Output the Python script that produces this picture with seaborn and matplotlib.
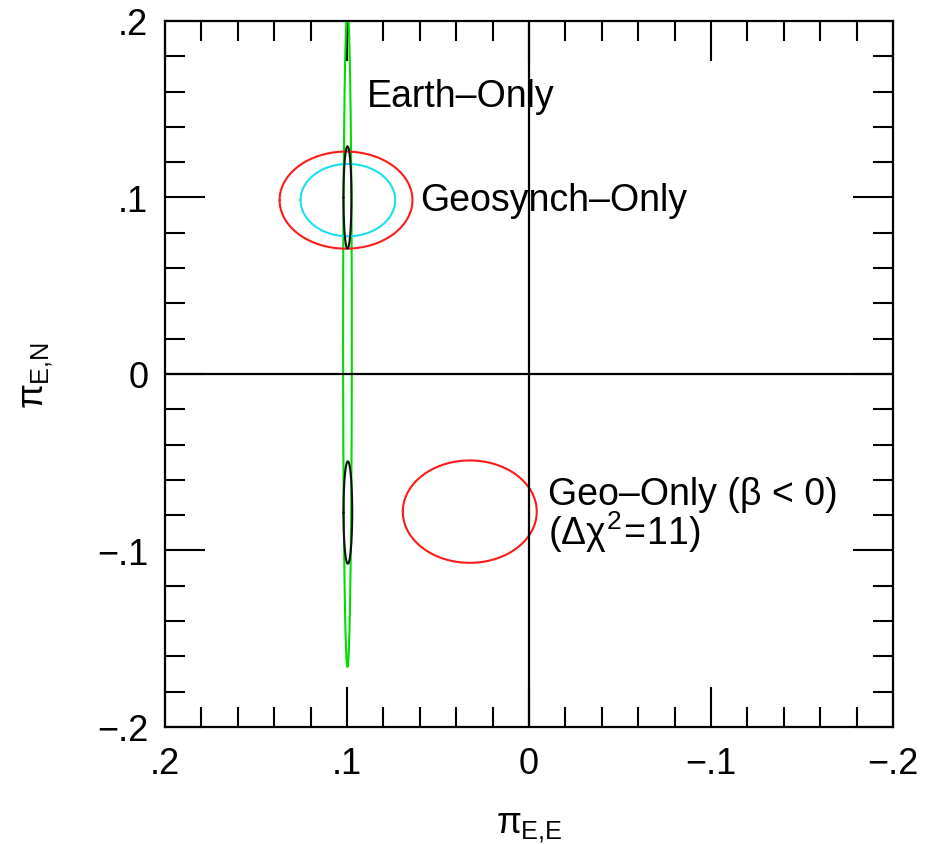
#!/usr/bin/env python3
"""
Microlens parallax constraints: Earth-only, geosynchronous-only and
geo-only (beta < 0) error ellipses in the (pi_E,E, pi_E,N) plane.
"""
import numpy as np
import matplotlib
matplotlib.use("Agg")
import matplotlib.pyplot as plt
import seaborn as sns

sns.set_style("ticks")
plt.rcParams['font.family'] = ['Liberation Sans', 'DejaVu Sans']
plt.rcParams['mathtext.fontset'] = 'custom'
plt.rcParams['mathtext.rm'] = 'Liberation Sans'
plt.rcParams['mathtext.it'] = 'Liberation Sans'
plt.rcParams['axes.unicode_minus'] = True
plt.rcParams['text.color'] = 'black'
plt.rcParams['axes.labelcolor'] = 'black'
plt.rcParams['xtick.labelcolor'] = 'black'
plt.rcParams['ytick.labelcolor'] = 'black'

# Contours: centre (pi_E,E, pi_E,N) and semi-axes (east, north)
contour_names = ['earth', 'geosynch', 'geosynch_inner', 'earth_geo_up',
                 'earth_geo_down', 'geo_neg']
center_e = [0.0997, 0.1005, 0.0995, 0.0997, 0.0995, 0.0325]
center_n = [0.020, 0.0985, 0.0985, 0.100, -0.0785, -0.078]
semi_e = [0.0024, 0.0365, 0.026, 0.0022, 0.0024, 0.0368]
semi_n = [0.186, 0.0275, 0.0205, 0.029, 0.029, 0.029]
colors = ['#00dd00', '#ff1a1a', '#1ae0f0', '#111111', '#111111', '#ff1a1a']

tick_values = [0.2, 0.1, 0.0, -0.1, -0.2]
tick_labels = ['.2', '.1', '0', '\u2212.1', '\u2212.2']

labels = ['Earth\u2013Only', 'Geosynch\u2013Only',
          'Geo\u2013Only (\u03b2 < 0)\n' + r'$(\Delta\chi^{2}\!=\!11)$']
label_e = [0.089, 0.060, -0.0105]
label_n = [0.1575, 0.0985, -0.080]


def ellipse(ce, cn, ae, an, n=400):
    t = np.linspace(0, 2 * np.pi, n)
    return ce + ae * np.cos(t), cn + an * np.sin(t)


fig = plt.figure(figsize=(9.37, 8.45), dpi=100)
ax = fig.add_axes([0.176, 0.1385, 0.777, 0.8355])

for i in range(len(contour_names)):
    xe, yn = ellipse(center_e[i], center_n[i], semi_e[i], semi_n[i])
    sns.lineplot(x=xe, y=yn, sort=False, estimator=None, color=colors[i],
                 lw=1.5, ax=ax)

ax.axhline(0, color='black', lw=1.6)
ax.axvline(0, color='black', lw=1.6)

ax.set_xlim(0.2, -0.2)
ax.set_ylim(-0.2, 0.2)
ax.set_xticks(tick_values)
ax.set_xticklabels(tick_labels)
ax.set_yticks(tick_values)
ax.set_yticklabels(tick_labels)
ax.set_xticks(np.arange(-0.2, 0.2001, 0.02), minor=True)
ax.set_yticks(np.arange(-0.2, 0.2001, 0.02), minor=True)

ax.tick_params(which='both', direction='in', top=True, right=True,
               width=1.5, color='black')
ax.tick_params(which='major', length=29, labelsize=26)
ax.tick_params(which='minor', length=14.5)
ax.tick_params(axis='x', which='major', pad=14)
ax.tick_params(axis='y', which='major', pad=12)
for s in ax.spines.values():
    s.set_linewidth(1.6)
    s.set_color('black')

ax.set_xlabel(r'$\pi_{\mathrm{E{,}E}}$', fontsize=26, labelpad=20)
ax.set_ylabel(r'$\pi_{\mathrm{E{,}N}}$', fontsize=26, labelpad=30)

for txt, xe, yn in zip(labels, label_e, label_n):
    ax.text(xe, yn, txt, fontsize=27, ha='left', va='center',
            linespacing=0.9)

fig.savefig('out.png', dpi=100)
